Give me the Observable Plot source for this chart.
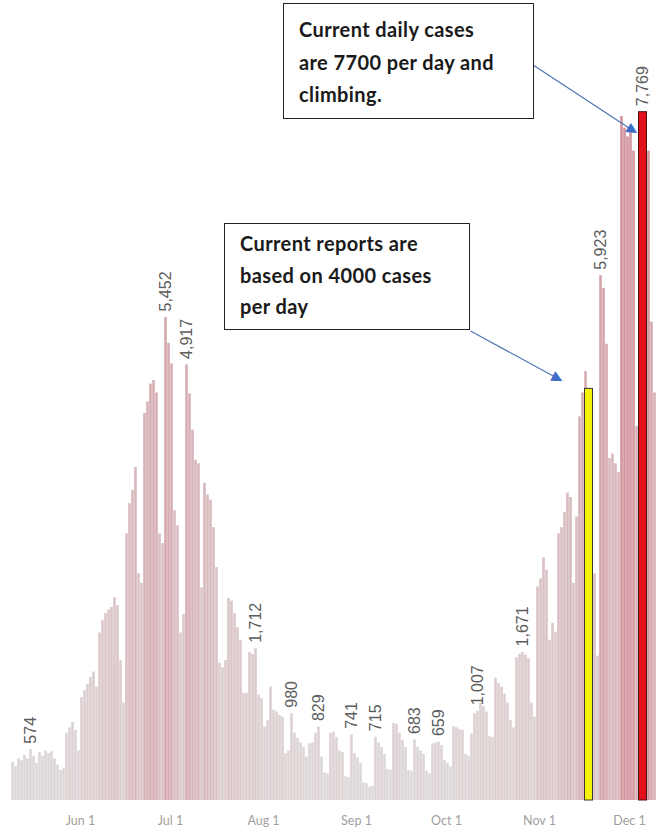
<!DOCTYPE html>
<html>
<head>
<meta charset="utf-8">
<script src="https://cdn.jsdelivr.net/npm/d3@7"></script>
<script src="https://cdn.jsdelivr.net/npm/@observablehq/plot@0.6"></script>
<style>
  html, body { margin: 0; padding: 0; background: #fff; }
  #wrap { position: relative; width: 660px; height: 835px; overflow: hidden; color: #9a9a9a; }
  #wrap svg { position: absolute; left: 0; top: 0; }
  .note {
    position: absolute; box-sizing: border-box; background: #fff;
    border: 1.5px solid #222; font-family: Lato, "Open Sans", sans-serif;
    font-weight: 700; font-size: 20px; letter-spacing: 0.4px; color: #1a1a1a;
  }
</style>
</head>
<body>
<div id="wrap"></div>
<script>
// ---- data (daily cases) ----
const startDate = "2020-05-09";
const may = [430,380,470,450,510,470,574,500,420,540,500,560,530,550,470,400,340,360,760,820,880,790,560];
const jun = [1160,1240,1310,1390,1450,1280,1890,2030,2110,2150,2180,2290,2200,1580,1100,3010,3350,3500,3760,2560,2450,4370,4500,4700,4740,4600,3010,2900,5452,5160];
const jul = [4930,3270,3100,1890,2100,4917,4590,4180,3840,3800,2400,3580,3450,3390,3080,2630,1550,1500,1580,2280,2250,2110,1950,1810,1210,1210,1670,1650,1712,1190,1150];
const aug = [830,900,1280,1020,1000,960,940,530,560,980,760,700,650,600,490,640,650,760,829,490,310,300,760,770,710,560,540,270,260,741,530];
const sep = [480,420,200,190,150,160,715,650,600,520,350,340,870,860,760,680,600,340,330,683,600,560,520,330,300,640,650,659,620,450];
const oct = [420,380,830,820,800,790,520,500,750,980,1007,1100,1060,1000,720,710,1380,1320,1280,1200,1100,900,820,1610,1650,1671,1640,1600,1100,940,2410];
const nov = [2500,2740,2600,1810,2000,1900,3010,3080,3250,3470,3420,2450,3200,4330,4600,4840,4646,3190,2560,1630,5923,5780,5150,3860,3910,3800,3700,7720,7590,7490];
const dec = [7540,7330,4220,7500,7769,7600,7330,5400,4600];

// value labels shown above bars
const labelDates  = ["2020-05-15","2020-06-29","2020-07-06","2020-07-29","2020-08-10","2020-08-19","2020-08-30","2020-09-07","2020-09-20","2020-09-28","2020-10-11","2020-10-26","2020-11-21","2020-12-05"];
const labelValues = [574,5452,4917,1712,980,829,741,715,683,659,1007,1671,5923,7769];

// highlighted bars
const highlightDates  = ["2020-11-17","2020-12-05"];
const highlightValues = [4646,7769];
const highlightFills  = ["#f7f20a","#e3111b"];
const highlightStrokes = ["#3a3a2a","#4a1414"];

// x-axis ticks
const tickDates  = ["2020-06-01","2020-07-01","2020-08-01","2020-09-01","2020-10-01","2020-11-01","2020-12-01"];
const tickLabels = ["Jun 1","Jul 1","Aug 1","Sep 1","Oct 1","Nov 1","Dec 1"];

// annotation arrows (data space: date, cases)
const arrowFrom = [["2020-10-30", 8300], ["2020-10-09", 5300]];
const arrowTo   = [["2020-12-02T06:00Z", 7560], ["2020-11-07T06:00Z", 4760]];
const arrowHeadRotate = [122, 118];

// ---- build rows ----
const values = [...may, ...jun, ...jul, ...aug, ...sep, ...oct, ...nov, ...dec];
const t0 = new Date(startDate);
const rows = values.map((v, i) => {
  const d = d3.utcDay.offset(t0, i);
  return {date: d, next: d3.utcDay.offset(d, 1), value: v};
});
const labels = labelDates.map((s, i) => ({x: d3.utcHour.offset(new Date(s), 12), value: labelValues[i], text: d3.format(",")(labelValues[i])}));
const highlights = highlightDates.map((s, i) => {
  const d = new Date(s);
  return {x1: d3.utcDay.offset(d, -1), x2: d3.utcDay.offset(d, 2), value: highlightValues[i], fill: highlightFills[i], stroke: highlightStrokes[i]};
});
const arrows = arrowFrom.map((f, i) => ({
  x1: new Date(f[0]), y1: f[1], x2: new Date(arrowTo[i][0]), y2: arrowTo[i][1], rot: arrowHeadRotate[i]
}));
const tickMap = new Map(tickDates.map((s, i) => [+new Date(s), tickLabels[i]]));

const chart = Plot.plot({
  width: 660, height: 835,
  marginLeft: 11, marginRight: 4, marginTop: 0, marginBottom: 35,
  style: {background: "transparent", overflow: "visible"},
  x: {type: "utc", domain: [t0, new Date("2020-12-10")], axis: null},
  y: {domain: [0, 9030], axis: null},
  color: {type: "linear", domain: [0, 8000], range: ["#dedada", "#d1919a"]},
  marks: [
    Plot.rectY(rows, {x1: "date", x2: "next", y: "value", fill: "value", insetLeft: 0.2, insetRight: 0.2}),
    ...highlights.map(h => Plot.rectY([h], {x1: "x1", x2: "x2", y: "value", fill: h.fill, stroke: h.stroke, strokeWidth: 1, insetLeft: 0.5, insetRight: 0.5})),
    Plot.axisX({ticks: tickDates.map(s => new Date(s)), tickFormat: d => tickMap.get(+d), tickSize: 0, tickPadding: 16,
      fontSize: 12.5, fontFamily: "Lato, 'Open Sans', sans-serif", fill: "#a0a0a0"}),
    Plot.text(labels, {x: "x", y: "value", text: "text", rotate: -90, textAnchor: "start", dy: -6,
      fontSize: 16, fontFamily: "'Liberation Sans', Arial, sans-serif", fill: "#5c5c5c"}),
    Plot.link(arrows, {x1: "x1", y1: "y1", x2: "x2", y2: "y2", stroke: "#4e76b4", strokeWidth: 1.2}),
    Plot.text(arrows, {x: "x2", y: "y2", text: () => "▲", rotate: "rot", fontSize: 14, fill: "#3d6dc4",
      fontFamily: "'DejaVu Sans', sans-serif"})
  ]
});

const wrap = document.getElementById("wrap");
wrap.appendChild(chart);

function note(left, top, w, h, padTop, lh, lines) {
  const div = document.createElement("div");
  div.className = "note";
  Object.assign(div.style, {left: left + "px", top: top + "px", width: w + "px", height: h + "px",
    paddingTop: padTop + "px", paddingLeft: "15px", lineHeight: lh + "px"});
  div.innerHTML = lines.map(l => `<div>${l}</div>`).join("");
  wrap.appendChild(div);
}
note(283, 3, 251, 116, 9, 32.5, ["Current daily cases", "are 7700 per day and", "climbing."]);
note(224, 223, 246, 107, 4, 31.5, ["Current reports are", "based on 4000 cases", "per day"]);
</script>
</body>
</html>
